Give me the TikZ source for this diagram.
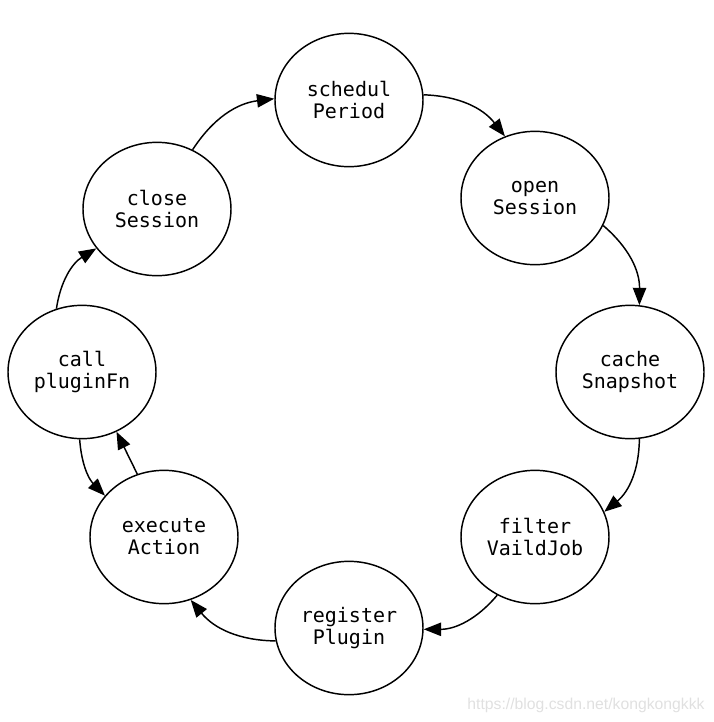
\documentclass[tikz,border=0pt]{standalone}
\usepackage{fontspec}
\setmonofont{DejaVu Sans Mono}
\newfontfamily\markfont{Liberation Sans}
\usetikzlibrary{arrows.meta, shapes.geometric}
\tikzset{
  phase/.style={
    ellipse, draw=black, line width=1.1pt, minimum width=111pt, minimum height=100pt,
    inner sep=0pt, align=center, font=\ttfamily\fontsize{15}{16.5}\selectfont
  },
  flow/.style={-{Triangle[length=13pt, width=10pt]}, line width=1.1pt},
  watermark/.style={font=\markfont\fontsize{11.8}{14}\selectfont, text=black!12}
}

\begin{document}
\begin{tikzpicture}[x=0.75pt, y=-0.75pt]
    \useasboundingbox (0,0) rectangle (714,722);
    % scheduler cycle
    \node[phase] (sched)  at (349,100) {schedul\\Period};
    \node[phase] (open)   at (535,198) {open\\Session};
    \node[phase] (cache)  at (630,372) {cache\\Snapshot};
    \node[phase] (filter) at (535,537) {filter\\VaildJob};
    \node[phase] (reg)    at (349,628) {register\\Plugin};
    \node[phase] (exec)   at (164,537) {execute\\Action};
    \node[phase] (call)   at (82,372)  {call\\pluginFn};
    \node[phase] (close)  at (157,209) {close\\Session};

    \draw[flow] (sched.4) to[bend left=25] (open.116);
    \draw[flow] (open.-22) to[bend left=25] (cache.82);
    \draw[flow] (cache.-82) to[bend left=25] (filter.20);
    \draw[flow] (filter.-123) to[bend left=25] (reg.-1);
    \draw[flow] (reg.-170) to[bend left=25] (exec.-67);
    \draw[flow] (exec.113) -- (call.-60);
    \draw[flow] (call.-92) to[bend right=20] (exec.145);
    \draw[flow] (call.112) to[bend left=25] (close.-147);
    \draw[flow] (close.59) to[bend left=25] (sched.179);

    \node[watermark] (mark) at (586,705) {https://blog.csdn.net/kongkongkkk};
\end{tikzpicture}
\end{document}
